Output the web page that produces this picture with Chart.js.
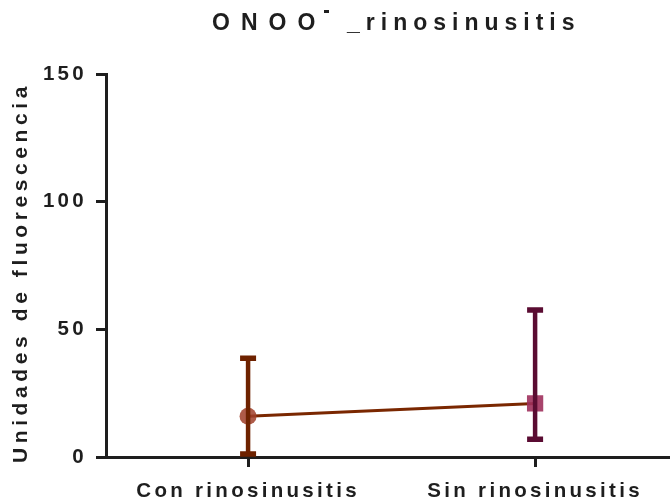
<!DOCTYPE html>
<html>
<head>
<meta charset="utf-8">
<script src="https://cdn.jsdelivr.net/npm/chart.js@4.4.1/dist/chart.umd.min.js"></script>
<style>
  html, body { margin: 0; padding: 0; background: #fff; }
  #wrap { width: 670px; height: 501px; }
</style>
</head>
<body>
<div id="wrap"><canvas id="chart"></canvas></div>
<script>
// Group labels and values (mean with lower / upper error limits)
const categories = ['Con rinosinusitis', 'Sin rinosinusitis'];
const means = [16, 21];
const errLow = [1.2, 7];
const errHigh = [38.7, 57.6];
const yTicks = [0, 50, 100, 150];

const barColors = ['#6e2200', '#5a0c32'];
const markerColors = ['rgba(160,62,40,0.85)', 'rgba(158,48,92,0.9)'];
const markerStyles = ['circle', 'rect'];
const markerSizes = [8.5, 11.5];

const FONT = '"Liberation Sans", Arial, sans-serif';
const INK = '#1e1e1e';

// Error bars with caps, drawn on top of the markers
const errorBars = {
  id: 'errorBars',
  afterDatasetsDraw(chart) {
    const { ctx, scales: { x, y } } = chart;
    ctx.save();
    ctx.lineCap = 'butt';
    means.forEach((m, i) => {
      const px = x.getPixelForValue(i);
      const top = y.getPixelForValue(errHigh[i]);
      const bot = y.getPixelForValue(errLow[i]);
      ctx.strokeStyle = barColors[i];
      ctx.lineWidth = 4.5;
      ctx.beginPath();
      ctx.moveTo(px, top);
      ctx.lineTo(px, bot);
      ctx.stroke();
      ctx.lineWidth = 5.5;
      ctx.beginPath();
      ctx.moveTo(px - 8, top);
      ctx.lineTo(px + 8, top);
      ctx.moveTo(px - 8, bot);
      ctx.lineTo(px + 8, bot);
      ctx.stroke();
    });
    ctx.restore();
  }
};

// Spaced-out title and y axis caption
const labels = {
  id: 'labels',
  beforeDraw(chart) {
    chart.ctx.letterSpacing = '3.3px';
  },
  afterDraw(chart) {
    const { ctx, chartArea } = chart;
    const cx = (chartArea.left + chartArea.right) / 2;
    ctx.save();
    ctx.fillStyle = INK;
    ctx.textBaseline = 'alphabetic';
    ctx.textAlign = 'left';

    // title: ONOO, raised minus, _rinosinusitis
    ctx.font = 'bold 23px ' + FONT;
    ctx.letterSpacing = '11px';
    ctx.fillText('ONOO', cx - 176, 30);
    ctx.fillRect(cx - 64, 10, 5, 3);
    ctx.letterSpacing = '6px';
    ctx.fillText('_rinosinusitis', cx - 41, 30);

    // y axis caption
    ctx.font = 'bold 21px ' + FONT;
    ctx.letterSpacing = '4.6px';
    ctx.translate(27, (chartArea.top + chartArea.bottom) / 2 + 7);
    ctx.rotate(-Math.PI / 2);
    ctx.textAlign = 'center';
    ctx.fillText('Unidades de fluorescencia', 0, 0);
    ctx.restore();
  }
};

new Chart(document.getElementById('chart'), {
  type: 'scatter',
  data: {
    datasets: [{
      data: means.map((m, i) => ({ x: i, y: m })),
      showLine: true,
      borderColor: '#7a2700',
      borderWidth: 3,
      pointStyle: markerStyles,
      pointRadius: markerSizes,
      pointBackgroundColor: markerColors,
      pointBorderWidth: 0,
      clip: false
    }]
  },
  options: {
    responsive: true,
    maintainAspectRatio: false,
    animation: false,
    layout: { autoPadding: false, padding: { top: 74, right: 0, left: 0, bottom: 0 } },
    plugins: {
      legend: { display: false },
      title: { display: false },
      tooltip: { enabled: false }
    },
    scales: {
      x: {
        type: 'linear',
        min: -0.495,
        max: 1.47,
        afterBuildTicks: s => { s.ticks = categories.map((c, i) => ({ value: i })); },
        afterFit: s => { s.height = 44; s.paddingLeft = 0; s.paddingRight = 0; },
        ticks: {
          callback: v => categories[v],
          color: INK,
          font: { family: FONT, size: 20.5, weight: 'bold' },
          padding: 12,
          maxRotation: 0
        },
        grid: { drawOnChartArea: false, tickLength: 10, lineWidth: 3, color: INK },
        border: { width: 3, color: INK }
      },
      y: {
        min: 0,
        max: 150,
        afterBuildTicks: s => { s.ticks = yTicks.map(v => ({ value: v })); },
        afterFit: s => { s.width = 106; s.paddingTop = 0; s.paddingBottom = 0; },
        ticks: {
          color: INK,
          font: { family: FONT, size: 20.5, weight: 'bold' },
          padding: 9
        },
        grid: { drawOnChartArea: false, tickLength: 10, lineWidth: 3, color: INK },
        border: { width: 3, color: INK }
      }
    }
  },
  plugins: [errorBars, labels]
});
</script>
</body>
</html>
